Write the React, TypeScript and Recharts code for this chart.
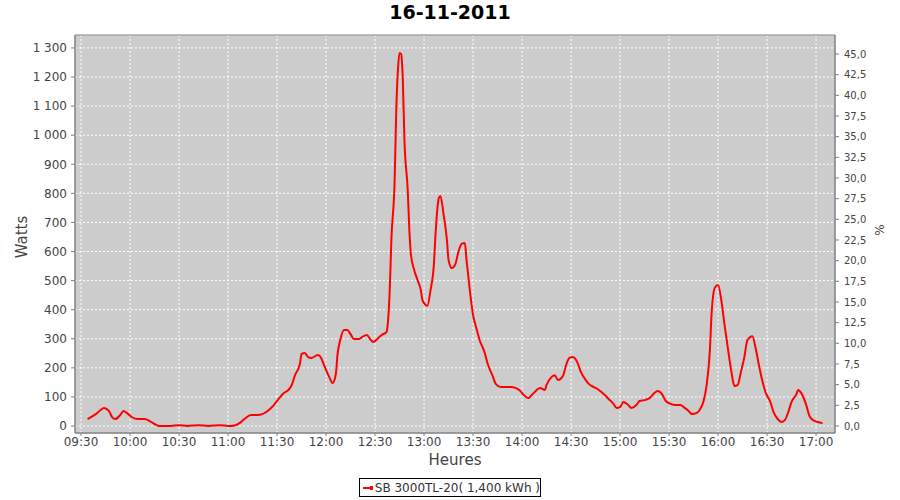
import React from 'react';
import { LineChart, Line, XAxis, YAxis, CartesianGrid, ReferenceArea } from 'recharts';

// minutes since midnight
const times = [
  574, 579, 582, 584, 587, 589, 591, 594, 596, 598, 601, 605, 609, 612, 615, 618, 625, 630, 635, 642,
  648, 655, 660, 664, 667, 670, 674, 678, 681, 685, 688, 691, 694, 697, 699, 701, 704, 705, 707, 709,
  711, 715, 717, 719, 722, 724, 726, 727, 729, 731, 733, 735, 737, 740, 742, 745, 747, 749, 752, 754,
  757, 758, 759, 760, 762, 763, 764, 765, 766, 767, 768, 770, 771, 772, 774, 776, 778, 779, 781, 782,
  784, 786, 787, 789, 790, 792, 794, 795, 797, 799, 801, 803, 805, 806, 808, 810, 812, 814, 817, 819,
  822, 824, 827, 830, 833, 836, 839, 841, 844, 846, 849, 851, 854, 855, 858, 860, 862, 865, 867, 869,
  871, 874, 876, 879, 881, 884, 887, 890, 893, 896, 898, 900, 902, 905, 907, 910, 912, 915, 918, 921,
  923, 926, 928, 931, 934, 937, 939, 942, 944, 947, 949, 951, 953, 955, 956, 958, 960, 962, 964, 966,
  968, 970, 972, 974, 976, 978, 981, 983, 985, 987, 989, 992, 994, 996, 999, 1001, 1003, 1005, 1008, 1009,
  1011, 1014, 1016, 1018, 1021, 1024,
];

const watts = [
  24, 41, 55, 62, 52, 31, 24, 38, 52, 45, 31, 24, 24, 17, 7, 0, 0, 3, 0, 3,
  0, 3, 0, 2, 10, 24, 38, 38, 41, 55, 72, 93, 113, 124, 141, 175, 213, 248, 251, 237,
  234, 244, 234, 206, 168, 148, 179, 244, 303, 330, 330, 316, 299, 299, 306, 313, 299, 289, 303, 313,
  323, 365, 468, 640, 846, 1087, 1224, 1283, 1279, 1190, 983, 812, 674, 588, 536, 502, 468, 433, 416, 413,
  468, 554, 657, 784, 791, 726, 640, 571, 543, 554, 598, 626, 629, 571, 468, 382, 337, 296, 254, 213,
  172, 144, 134, 134, 134, 131, 120, 107, 96, 107, 124, 131, 124, 141, 168, 175, 158, 172, 210, 234,
  237, 217, 186, 158, 144, 134, 124, 110, 93, 76, 62, 65, 83, 72, 62, 72, 86, 89, 96, 113,
  120, 107, 86, 76, 72, 72, 65, 52, 41, 45, 58, 83, 141, 261, 382, 475, 485, 433, 347, 268,
  193, 138, 141, 186, 234, 296, 309, 268, 210, 158, 117, 83, 48, 28, 14, 21, 48, 83, 110, 124,
  113, 72, 34, 21, 14, 10,
];

const timeTicks = [570, 600, 630, 660, 690, 720, 750, 780, 810, 840, 870, 900, 930, 960, 990, 1020];
const wattTicks = [0, 100, 200, 300, 400, 500, 600, 700, 800, 900, 1000, 1100, 1200, 1300];
const pctTicks = [0, 2.5, 5, 7.5, 10, 12.5, 15, 17.5, 20, 22.5, 25, 27.5, 30, 32.5, 35, 37.5, 40, 42.5, 45];

const data = times.map((t, i) => ({ t, w: watts[i] }));

const fmtTime = (m: number) =>
  `${String(Math.floor(m / 60)).padStart(2, '0')}:${String(m % 60).padStart(2, '0')}`;
const fmtWatt = (v: number) => (v >= 1000 ? `${Math.floor(v / 1000)} ${String(v % 1000).padStart(3, '0')}` : String(v));
const fmtPct = (v: number) => v.toFixed(1).replace('.', ',');

const X_DOM: [number, number] = [566.3, 1031.6];
const W_DOM: [number, number] = [-24, 1344.5];

export default function App() {
  const font = '"DejaVu Sans", sans-serif';
  return (
    <div style={{ position: 'absolute', left: 0, top: 0, width: 900, height: 500, background: '#fff', fontFamily: font }}>
      <div style={{ position: 'absolute', top: 1, width: 900, textAlign: 'center', fontSize: 19, fontWeight: 'bold', color: '#000' }}>
        16-11-2011
      </div>
      <LineChart width={900} height={500} data={data} margin={{ top: 35, right: 0, bottom: 27, left: 0 }}>
        <CartesianGrid yAxisId="left" fill="#cccccc" stroke="#ffffff" strokeDasharray="2 2" />
        <XAxis
          dataKey="t"
          type="number"
          domain={X_DOM}
          allowDataOverflow
          ticks={timeTicks}
          tickFormatter={fmtTime}
          height={40}
          tickSize={3}
          tickMargin={1}
          stroke="#808080"
          tick={{ fill: '#444', fontSize: 12 }}
        />
        <YAxis
          yAxisId="left"
          width={75}
          domain={W_DOM}
          allowDataOverflow
          ticks={wattTicks}
          tickFormatter={fmtWatt}
          tickSize={4}
          tickMargin={4}
          stroke="#808080"
          tick={{ fill: '#444', fontSize: 12 }}
        />
        <YAxis
          yAxisId="right"
          orientation="right"
          width={65}
          domain={[-0.85, 47.3]}
          allowDataOverflow
          ticks={pctTicks}
          tickFormatter={fmtPct}
          tickSize={4}
          tickMargin={5}
          stroke="#808080"
          tick={{ fill: '#444', fontSize: 10 }}
        />
        <ReferenceArea yAxisId="left" x1={X_DOM[0]} x2={X_DOM[1]} y1={W_DOM[0]} y2={W_DOM[1]} fill="none" stroke="#808080" />
        <Line
          yAxisId="left"
          type="monotone"
          dataKey="w"
          stroke="#ff0000"
          strokeWidth={2}
          dot={false}
          isAnimationActive={false}
        />
      </LineChart>
      <div style={{ position: 'absolute', left: 22, top: 237, transform: 'translate(-50%, -50%) rotate(-90deg)', fontSize: 15, color: '#444' }}>
        Watts
      </div>
      <div style={{ position: 'absolute', left: 880, top: 230, transform: 'translate(-50%, -50%) rotate(-90deg)', fontSize: 12, color: '#444' }}>
        %
      </div>
      <div style={{ position: 'absolute', left: 455, top: 460, transform: 'translate(-50%, -50%)', fontSize: 15, color: '#444' }}>
        Heures
      </div>
      <div
        style={{
          position: 'absolute', left: 359, top: 478, width: 180, height: 17, border: '1px solid #000',
          display: 'flex', alignItems: 'center', fontSize: 12, color: '#333', whiteSpace: 'nowrap',
        }}
      >
        <svg width={20} height={10} style={{ marginLeft: 2, marginRight: 2 }}>
          <line x1={1} y1={5} x2={19} y2={5} stroke="#ff0000" strokeWidth={2} />
          <rect x={8} y={3} width={4} height={4} fill="#ff0000" />
        </svg>
        SB 3000TL-20( 1,400 kWh )
      </div>
    </div>
  );
}
